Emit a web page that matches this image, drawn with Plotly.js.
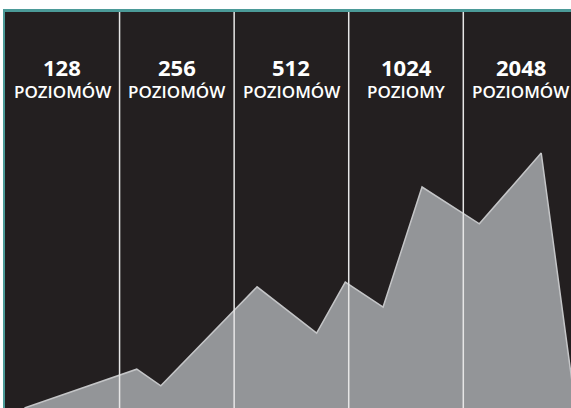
<!DOCTYPE html>
<html>
<head>
<meta charset="utf-8">
<script src="https://cdn.plot.ly/plotly-3.0.1.min.js"></script>
<style>
  html, body { margin: 0; padding: 0; background: #ffffff; }
  #chart { width: 571px; height: 408px; }
</style>
</head>
<body>
<div id="chart"></div>
<script>
// Column labels (levels)
const levelNumbers = ['128', '256', '512', '1024', '2048'];
const levelWords = ['POZIOMÓW', 'POZIOMÓW', 'POZIOMÓW', 'POZIOMY', 'POZIOMÓW'];

// Area profile: x in column units (0..5), y on a 0..100 scale
const xPos = [0.17, 1.15, 1.36, 2.20, 2.72, 2.97, 3.30, 3.64, 4.14, 4.68, 4.98];
const yVal = [0.0, 9.8, 5.6, 30.6, 18.9, 31.8, 25.5, 55.8, 46.5, 64.4, 0.0];

// Column dividers
const dividers = [1, 2, 3, 4];

const trace = {
  x: xPos,
  y: yVal,
  type: 'scatter',
  mode: 'lines',
  fill: 'tozeroy',
  fillcolor: '#939598',
  line: { color: '#c4c5c7', width: 1.5 },
  hoverinfo: 'skip'
};

const W = 566, H = 396;
const shapes = [
  // teal frame
  { type: 'rect', xref: 'paper', yref: 'paper', x0: -2 / W, x1: 1.02, y0: -0.02, y1: 1 + 3 / H,
    fillcolor: '#4b9a98', line: { width: 0 }, layer: 'below' },
  // dark panel
  { type: 'rect', xref: 'paper', yref: 'paper', x0: 0, x1: 1.02, y0: -0.02, y1: 1,
    fillcolor: '#231f20', line: { width: 0 }, layer: 'below' }
];
dividers.forEach(d => shapes.push({
  type: 'line', xref: 'x', yref: 'paper', x0: d, x1: d, y0: 0, y1: 1,
  line: { color: '#e6e6e6', width: 1.5 }, layer: 'above'
}));

const annotations = [];
levelNumbers.forEach((n, i) => {
  annotations.push({
    x: i + 0.5, xref: 'x', y: (408 - 67) / H, yref: 'paper',
    text: n, showarrow: false, xanchor: 'center', yanchor: 'middle',
    font: { family: 'Open Sans', size: 22, color: '#ffffff', weight: 700 }
  });
  annotations.push({
    x: i + 0.5, xref: 'x', y: (408 - 92) / H, yref: 'paper',
    text: levelWords[i], showarrow: false, xanchor: 'center', yanchor: 'middle',
    font: { family: 'Open Sans', size: 17, color: '#ffffff', weight: 600 }
  });
});

const layout = {
  width: 571, height: 408,
  margin: { l: 5, r: 0, t: 12, b: 0, pad: 0 },
  paper_bgcolor: '#ffffff',
  plot_bgcolor: 'rgba(0,0,0,0)',
  showlegend: false,
  xaxis: { range: [0, 4.94], visible: false, fixedrange: true },
  yaxis: { range: [0, 100], visible: false, fixedrange: true },
  shapes: shapes,
  annotations: annotations
};

Plotly.newPlot('chart', [trace], layout, { displayModeBar: false, staticPlot: true });
</script>
</body>
</html>
